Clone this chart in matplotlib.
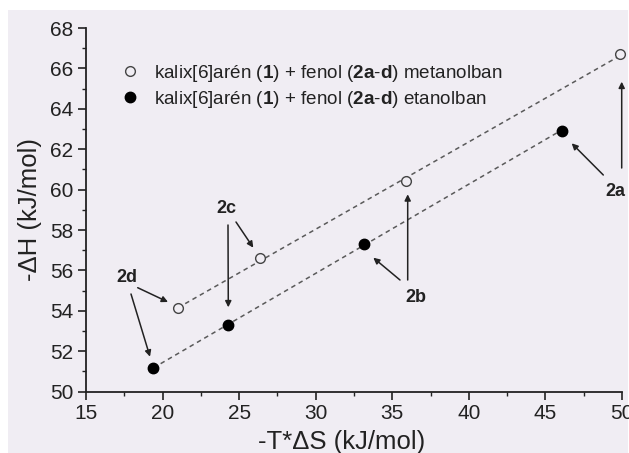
import matplotlib
matplotlib.use("Agg")
import matplotlib.pyplot as plt
import numpy as np
from matplotlib.patches import Rectangle

plt.rcParams['font.family'] = ['Liberation Sans', 'DejaVu Sans']
plt.rcParams['mathtext.fontset'] = 'custom'
plt.rcParams['mathtext.rm'] = 'Liberation Sans'
plt.rcParams['mathtext.bf'] = 'Liberation Sans:bold'

# data
labels = ['2d', '2c', '2b', '2a']
x_met = [21.0, 26.35, 35.9, 49.9]
y_met = [54.12, 56.6, 60.43, 66.7]
x_eta = [19.4, 24.3, 33.15, 46.05]
y_eta = [51.19, 53.29, 57.31, 62.92]
xticks = [15, 20, 25, 30, 35, 40, 45, 50]
yticks = [50, 52, 54, 56, 58, 60, 62, 64, 66, 68]
leg_met = r'kalix[6]arén ($\mathbf{1}$) + fenol ($\mathbf{2a}$-$\mathbf{d}$) metanolban'
leg_eta = r'kalix[6]arén ($\mathbf{1}$) + fenol ($\mathbf{2a}$-$\mathbf{d}$) etanolban'

W, H = 629, 453
fig = plt.figure(figsize=(W / 100, H / 100), dpi=100)
fig.patch.set_facecolor('white')
bg = '#f0edf3'
fig.add_artist(Rectangle((8 / W, 0), 620 / W, 443 / H, transform=fig.transFigure,
                         facecolor=bg, edgecolor='none', zorder=0))

ax = fig.add_axes([86 / W, 1 - 391.7 / H, (622 - 86) / W, (391.7 - 28) / H])
ax.set_facecolor(bg)
ax.patch.set_alpha(0)

for xs, ys in [(x_met, y_met), (x_eta, y_eta)]:
    k, b = np.polyfit(xs, ys, 1)
    xx = np.array([min(xs), max(xs)])
    ax.plot(xx, k * xx + b, ls=(0, (3, 2.5)), color='#5a5a5a', lw=1.1, zorder=2)

ax.plot(x_met, y_met, 'o', mfc=bg, mec='#444444', mew=1.0, ms=7, ls='none',
        label=leg_met, zorder=3, clip_on=False)
ax.plot(x_eta, y_eta, 'o', mfc='black', mec='black', ms=7.5, ls='none',
        label=leg_eta, zorder=3, clip_on=False)

ax.set_xlim(15, 50)
ax.set_ylim(50, 68)
ax.set_xticks(xticks)
ax.set_yticks(yticks)
ax.set_xticks(np.arange(17.5, 50, 5), minor=True)
ax.set_yticks(np.arange(51, 68, 2), minor=True)
ax.tick_params(axis='both', which='major', direction='out', length=5.5, width=1.2,
               labelsize=15, colors='#222222')
ax.tick_params(axis='both', which='minor', direction='out', length=3, width=1.0,
               colors='#222222')
for s in ['top', 'right']:
    ax.spines[s].set_visible(False)
for s in ['left', 'bottom']:
    ax.spines[s].set_linewidth(1.3)
    ax.spines[s].set_color('#222222')

ax.set_xlabel('-T*ΔS (kJ/mol)', fontsize=18.5, color='#222222', labelpad=6.5)
ax.xaxis.set_label_coords(0.477, -0.105, transform=ax.transAxes)
ax.xaxis.label.set_va('top')
ax.set_ylabel('-ΔH (kJ/mol)', fontsize=18.5, color='#222222', labelpad=6)

leg = ax.legend(loc='upper left', bbox_to_anchor=(0.05, 0.925), frameon=False,
                fontsize=13.6, handletextpad=0.8, labelspacing=0.25,
                handlelength=1.0, borderaxespad=0)
for t in leg.get_texts():
    t.set_color('#222222')

ap = dict(arrowstyle='-|>', color='#222222', lw=1.1, mutation_scale=9,
          shrinkA=0, shrinkB=0)

def px2data(px, py):
    x = 15 + (px - 86) / ((622 - 86) / 35)
    y = 50 + (391.7 - py) / ((391.7 - 28) / 18)
    return x, y

annots = [
    ('2d', (127, 277), [((137.7, 287.7), (168, 302)), ((131, 294), (150, 356.7))]),
    ('2c', (226.7, 208.3), [((228, 225), (228.3, 307.3)), ((236, 222), (253.3, 247.7))]),
    ('2b', (416, 297.7), [((407.7, 280), (407.7, 194.3)), ((400, 280), (373.3, 257.7))]),
    ('2a', (615, 191.7), [((621.7, 168), (621.7, 81.7)), ((603.3, 175), (571.7, 143.3))]),
]
for lab, lp, arrows in annots:
    ax.text(*px2data(*lp), lab, fontsize=13, fontweight='bold', ha='center',
            va='center', color='#222222')
    for st, tip in arrows:
        ax.annotate('', xy=px2data(*tip), xytext=px2data(*st), arrowprops=ap,
                    annotation_clip=False)

fig.savefig('out.png', dpi=100)
